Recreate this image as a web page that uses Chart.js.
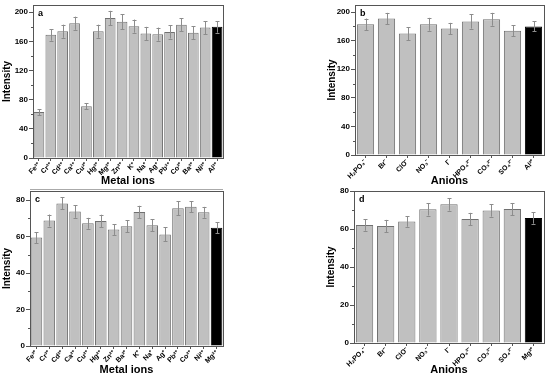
<!DOCTYPE html>
<html>
<head>
<meta charset="utf-8">
<script src="https://cdn.jsdelivr.net/npm/chart.js@4.4.0/dist/chart.umd.min.js"></script>
<style>
  body { margin: 0; background: #fff; }
  #wrap { position: relative; width: 550px; height: 377px; overflow: hidden; }
  .panel { position: absolute; }
  #sep { position: absolute; left: 30px; top: 189px; width: 193px; height: 1px; background: #aaa; }
</style>
</head>
<body>
<div id="wrap">
  <canvas id="chartA" class="panel" width="275" height="188" style="left:0;top:0"></canvas>
  <canvas id="chartB" class="panel" width="275" height="188" style="left:275px;top:0"></canvas>
  <canvas id="chartC" class="panel" width="275" height="189" style="left:0;top:188px"></canvas>
  <canvas id="chartD" class="panel" width="275" height="189" style="left:275px;top:188px"></canvas>
  <div id="sep"></div>
</div>
<script>
// Panel a - metal ions, Al3+ probe
const labelsA = ['Fe³⁺', 'Cr³⁺', 'Cd²⁺', 'Ca²⁺', 'Cu²⁺', 'Hg²⁺', 'Mg²⁺', 'Zn²⁺', 'K⁺', 'Na⁺', 'Ag⁺', 'Pb²⁺', 'Co²⁺', 'Ba²⁺', 'Ni²⁺', 'Al³⁺'];
const valuesA = [63, 169, 174, 185, 71, 174, 192, 187, 181, 171, 170, 173, 183, 172, 179, 180];
const errorsA = [4, 8, 9, 9, 4, 9, 10, 10, 9, 9, 9, 9, 9, 9, 9, 8];

// Panel b - anions, Al3+
const labelsB = ['H₂PO₄⁻', 'Br⁻', 'ClO⁻', 'NO₃⁻', 'I⁻', 'HPO₄²⁻', 'CO₃²⁻', 'SO₄²⁻', 'Al³⁺'];
const valuesB = [183, 191, 170, 183, 177, 187, 190, 174, 180];
const errorsB = [8, 8, 9, 9, 8, 10, 9, 8, 7];

// Panel c - metal ions, Mg2+ probe
const labelsC = ['Fe³⁺', 'Cr³⁺', 'Cd²⁺', 'Ca²⁺', 'Cu²⁺', 'Hg²⁺', 'Zn²⁺', 'Ba²⁺', 'K⁺', 'Na⁺', 'Ag⁺', 'Pb²⁺', 'Co²⁺', 'Ni²⁺', 'Mg²⁺'];
const valuesC = [59.5, 68.8, 78.2, 73.7, 67.3, 68.6, 63.9, 65.7, 73.5, 66.2, 61.2, 75.5, 76.4, 73.3, 64.8];
const errorsC = [3, 3.3, 3.3, 3.4, 3, 3.4, 3, 3.2, 3.4, 3.3, 3.8, 3.8, 3, 3, 3];

// Panel d - anions, Mg2+
const labelsD = ['H₂PO₄⁻', 'Br⁻', 'ClO⁻', 'NO₃⁻', 'I⁻', 'HPO₄²⁻', 'CO₃²⁻', 'SO₄²⁻', 'Mg²⁺'];
const valuesD = [62.1, 61.6, 64, 70.4, 73, 65.3, 69.8, 70.5, 65.8];
const errorsD = [3, 3.2, 2.8, 3.3, 3.3, 3.2, 3.3, 3.2, 3];

// y tick labels
const ticksTop = [0, 40, 80, 120, 160, 200];
const ticksBottom = [0, 20, 40, 60, 80];

Chart.defaults.font.family = '"Liberation Sans", Arial, sans-serif';
Chart.defaults.font.weight = 'bold';
Chart.defaults.color = '#000';

// error bars, frame, minor ticks and the panel letter
const panelExtras = {
    id: 'panelExtras',
    afterDatasetsDraw(chart, args, opts) {
        const ctx = chart.ctx;
        const y = chart.scales.y;
        const meta = chart.getDatasetMeta(0);
        const vals = chart.data.datasets[0].data;
        ctx.save();
        ctx.strokeStyle = '#8c8c8c';
        ctx.lineWidth = 1;
        meta.data.forEach((bar, i) => {
            const top = y.getPixelForValue(vals[i] + opts.errors[i]);
            const bot = y.getPixelForValue(vals[i] - opts.errors[i]);
            const x = Math.round(bar.x) + 0.5;
            ctx.beginPath();
            ctx.moveTo(x, top); ctx.lineTo(x, bot);
            ctx.moveTo(x - 2, Math.round(top) + 0.5); ctx.lineTo(x + 2, Math.round(top) + 0.5);
            ctx.moveTo(x - 2, Math.round(bot) + 0.5); ctx.lineTo(x + 2, Math.round(bot) + 0.5);
            ctx.stroke();
        });
        const a = chart.chartArea;
        ctx.strokeStyle = '#555';
        ctx.strokeRect(Math.round(a.left) + 0.5, Math.round(a.top) + 0.5,
            Math.round(a.right - a.left), Math.round(a.bottom - a.top));
        // minor ticks half way between majors
        const step = opts.step;
        ctx.beginPath();
        for (let v = step / 2; v < y.max; v += step) {
            const py = Math.round(y.getPixelForValue(v)) + 0.5;
            ctx.moveTo(a.left, py); ctx.lineTo(a.left - 2, py);
        }
        ctx.stroke();
        ctx.fillStyle = '#000';
        ctx.font = 'bold 9px "Liberation Sans", Arial, sans-serif';
        ctx.textBaseline = 'middle';
        ctx.fillText(opts.letter, a.left + 5, a.top + 9);
        ctx.restore();
    }
};

function makePanel(id, labels, values, errors, cfg) {
    const n = labels.length;
    return new Chart(document.getElementById(id), {
        type: 'bar',
        data: {
            labels: labels,
            datasets: [{
                data: values,
                backgroundColor: labels.map((l, i) => i === n - 1 ? '#000' : '#c0c0c0'),
                borderColor: labels.map((l, i) => i === n - 1 ? '#000' : '#707070'),
                borderWidth: 1,
                barPercentage: cfg.barPct,
                categoryPercentage: 1
            }]
        },
        options: {
            responsive: false,
            animation: false,
            devicePixelRatio: 1,
            layout: { padding: cfg.padding },
            plugins: {
                legend: { display: false },
                tooltip: { enabled: false },
                panelExtras: { errors: errors, step: cfg.ticks[1] - cfg.ticks[0], letter: cfg.letter }
            },
            scales: {
                x: {
                    grid: { display: true, drawOnChartArea: false, offset: false, tickLength: 3, color: '#555' },
                    border: { color: '#555' },
                    ticks: { minRotation: 45, maxRotation: 45, padding: 0, autoSkip: false, font: { size: 7 } },
                    title: { display: true, text: cfg.xTitle, font: { size: 11, weight: 'bold' }, padding: 0 },
                    afterFit(s) { s.height = cfg.xHeight; s.paddingLeft = 0; s.paddingRight = 0; }
                },
                y: {
                    min: 0,
                    max: cfg.max,
                    grid: { display: true, drawOnChartArea: false, tickLength: 4, color: '#555' },
                    border: { color: '#555' },
                    ticks: { padding: 1, font: { size: 8 } },
                    afterBuildTicks(s) { s.ticks = cfg.ticks.map(v => ({ value: v })); },
                    title: { display: true, text: 'Intensity', font: { size: 10, weight: 'bold' }, padding: 1 },
                    afterFit(s) { s.width = cfg.yWidth; s.paddingTop = 0; s.paddingBottom = 0; }
                }
            }
        },
        plugins: [panelExtras]
    });
}

makePanel('chartA', labelsA, valuesA, errorsA, {
    letter: 'a', xTitle: 'Metal ions', max: 210, ticks: ticksTop, barPct: 0.9,
    padding: { left: 0, top: 5, right: 52, bottom: 0 }, yWidth: 33, xHeight: 30
});
makePanel('chartB', labelsB, valuesB, errorsB, {
    letter: 'b', xTitle: 'Anions', max: 210, ticks: ticksTop, barPct: 0.82,
    padding: { left: 50, top: 5, right: 6, bottom: 0 }, yWidth: 30, xHeight: 33
});
makePanel('chartC', labelsC, valuesC, errorsC, {
    letter: 'c', xTitle: 'Metal ions', max: 85, ticks: ticksBottom, barPct: 0.9,
    padding: { left: 0, top: 3, right: 52, bottom: 0 }, yWidth: 30, xHeight: 31
});
makePanel('chartD', labelsD, valuesD, errorsD, {
    letter: 'd', xTitle: 'Anions', max: 80, ticks: ticksBottom, barPct: 0.82,
    padding: { left: 49, top: 3, right: 6, bottom: 0 }, yWidth: 30, xHeight: 34
});
</script>
</body>
</html>
